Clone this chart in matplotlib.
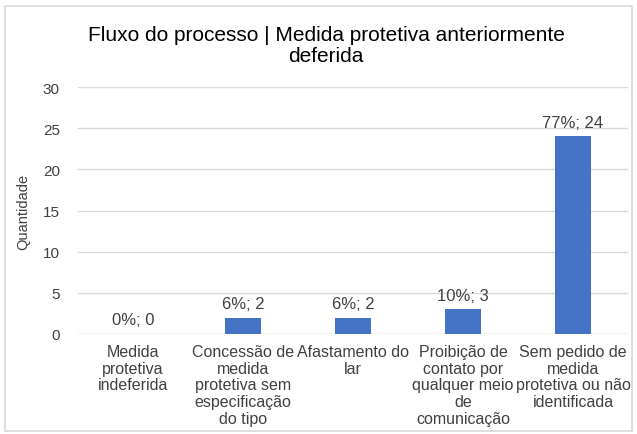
import matplotlib
matplotlib.use('Agg')
import matplotlib.pyplot as plt
from matplotlib.patches import Rectangle

categories = [
    'Medida\nprotetiva\nindeferida',
    'Concessão de\nmedida\nprotetiva sem\nespecificação\ndo tipo',
    'Afastamento do\nlar',
    'Proibição de\ncontato por\nqualquer meio\nde\ncomunicação',
    'Sem pedido de\nmedida\nprotetiva ou não\nidentificada',
]
values = [0, 2, 2, 3, 24]
percents = ['0%', '6%', '6%', '10%', '77%']
yticks = [0, 5, 10, 15, 20, 25, 30]

plt.rcParams['font.family'] = ['Liberation Sans', 'DejaVu Sans']

fig = plt.figure(figsize=(6.37, 4.35), dpi=100)
fig.patches.append(Rectangle((5 / 637, 3 / 435), 627 / 637, 425 / 435,
                             transform=fig.transFigure, fill=False,
                             edgecolor='#d9d9d9', linewidth=1.2))
ax = fig.add_axes([78 / 637, 1 - 335 / 435, 550 / 637, 247 / 435])

x = list(range(len(categories)))
ax.bar(x, values, width=0.32, color='#4472c4', zorder=3)
for xi, v, p in zip(x, values, percents):
    ax.text(xi, v + 0.8, '%s; %d' % (p, v), ha='center', va='bottom',
            fontsize=12, color='#404040')

ax.set_xlim(-0.5, len(categories) - 0.5)
ax.set_ylim(0, 30)
ax.set_yticks(yticks)
ax.yaxis.grid(True, color='#d9d9d9', linewidth=1, zorder=0)
for s in ax.spines.values():
    s.set_visible(False)
ax.axhline(0, color='#d9d9d9', linewidth=1, zorder=2)
ax.tick_params(axis='both', length=0, labelsize=11, labelcolor='#404040')
ax.tick_params(axis='y', pad=13)
ax.set_xticks(x)
ax.set_xticklabels(categories, linespacing=1.15, fontsize=11.5)
ax.tick_params(axis='x', pad=7)
ax.set_ylabel('Quantidade', fontsize=10.5, color='#404040', labelpad=9)

fig.text(326 / 637, 1 - 46 / 435,
         'Fluxo do processo | Medida protetiva anteriormente\ndeferida',
         ha='center', va='center', fontsize=15, color='#000000',
         linespacing=1.15)

fig.savefig('out.png', dpi=100)
